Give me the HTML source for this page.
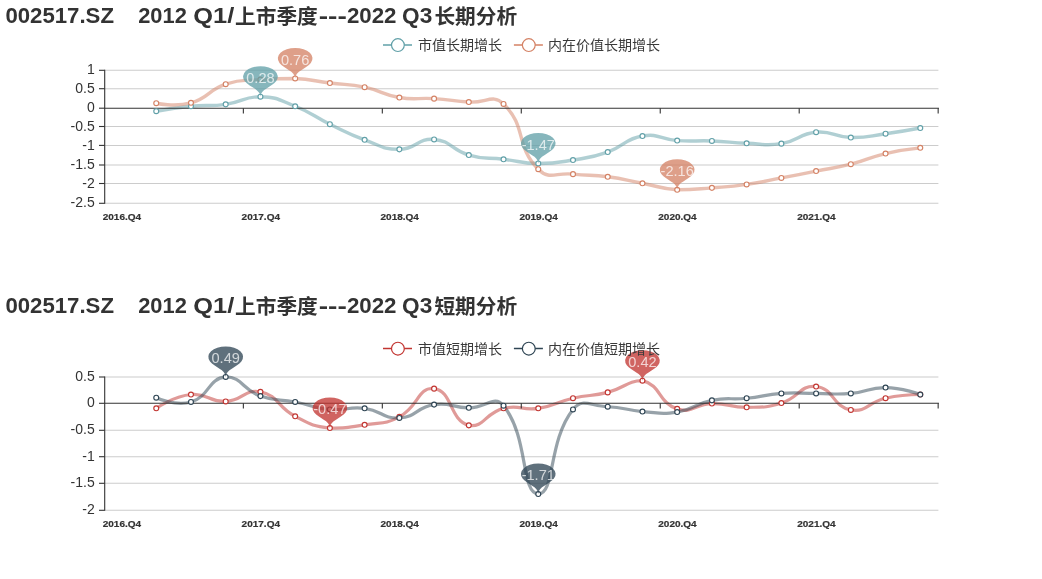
<!DOCTYPE html>
<html><head><meta charset="utf-8"><title>chart</title>
<style>
html,body{margin:0;padding:0;background:#fff;width:1042px;height:579px;overflow:hidden}
svg{display:block;will-change:transform;font-family:"Liberation Sans", "Noto Sans CJK SC", sans-serif}
</style></head><body>
<svg width="1042" height="579" viewBox="0 0 1042 579">
<rect width="1042" height="579" fill="#fff"/>
<line x1="104.70" y1="70.30" x2="938.40" y2="70.30" stroke="#ccc" stroke-width="1.05"/>
<line x1="104.70" y1="88.70" x2="938.40" y2="88.70" stroke="#ccc" stroke-width="1.05"/>
<line x1="104.70" y1="126.50" x2="938.40" y2="126.50" stroke="#ccc" stroke-width="1.05"/>
<line x1="104.70" y1="145.40" x2="938.40" y2="145.40" stroke="#ccc" stroke-width="1.05"/>
<line x1="104.70" y1="165.00" x2="938.40" y2="165.00" stroke="#ccc" stroke-width="1.05"/>
<line x1="104.70" y1="183.50" x2="938.40" y2="183.50" stroke="#ccc" stroke-width="1.05"/>
<line x1="104.70" y1="203.30" x2="938.40" y2="203.30" stroke="#ccc" stroke-width="1.05"/>
<line x1="104.70" y1="69.80" x2="104.70" y2="203.80" stroke="#333" stroke-width="1.1"/>
<line x1="99.00" y1="70.30" x2="104.70" y2="70.30" stroke="#333" stroke-width="1.1"/>
<text x="94.7" y="68.7" text-anchor="end" dominant-baseline="central" font-size="14" fill="#333">1</text>
<line x1="99.00" y1="88.70" x2="104.70" y2="88.70" stroke="#333" stroke-width="1.1"/>
<text x="94.7" y="87.7" text-anchor="end" dominant-baseline="central" font-size="14" fill="#333">0.5</text>
<line x1="99.00" y1="108.20" x2="104.70" y2="108.20" stroke="#333" stroke-width="1.1"/>
<text x="94.7" y="106.8" text-anchor="end" dominant-baseline="central" font-size="14" fill="#333">0</text>
<line x1="99.00" y1="126.50" x2="104.70" y2="126.50" stroke="#333" stroke-width="1.1"/>
<text x="94.7" y="125.9" text-anchor="end" dominant-baseline="central" font-size="14" fill="#333">-0.5</text>
<line x1="99.00" y1="145.40" x2="104.70" y2="145.40" stroke="#333" stroke-width="1.1"/>
<text x="94.7" y="144.9" text-anchor="end" dominant-baseline="central" font-size="14" fill="#333">-1</text>
<line x1="99.00" y1="165.00" x2="104.70" y2="165.00" stroke="#333" stroke-width="1.1"/>
<text x="94.7" y="164.0" text-anchor="end" dominant-baseline="central" font-size="14" fill="#333">-1.5</text>
<line x1="99.00" y1="183.50" x2="104.70" y2="183.50" stroke="#333" stroke-width="1.1"/>
<text x="94.7" y="183.1" text-anchor="end" dominant-baseline="central" font-size="14" fill="#333">-2</text>
<line x1="99.00" y1="203.30" x2="104.70" y2="203.30" stroke="#333" stroke-width="1.1"/>
<text x="94.7" y="202.1" text-anchor="end" dominant-baseline="central" font-size="14" fill="#333">-2.5</text>
<path d="M156.24 111.22 C156.24 111.22 173.53 107.99 190.97 106.27 C208.26 104.56 208.53 106.72 225.70 104.36 C243.26 101.95 243.18 96.73 260.43 96.73 C277.91 97.21 278.50 99.68 295.16 106.27 C313.23 113.41 312.30 115.69 329.89 124.19 C347.03 132.47 346.77 133.35 364.62 139.82 C381.50 145.94 382.01 149.45 399.35 149.35 C416.74 149.26 417.17 138.05 434.08 139.44 C451.90 140.91 450.70 149.91 468.81 155.07 C485.43 159.82 486.17 157.17 503.54 159.27 C520.90 161.36 520.88 163.27 538.26 163.46 C555.61 163.46 555.81 162.86 572.99 160.03 C590.54 157.14 590.97 157.82 607.72 152.02 C625.70 145.81 624.33 138.99 642.45 136.01 C659.05 133.27 659.74 139.34 677.18 140.58 C694.47 141.82 694.56 140.30 711.91 140.96 C729.29 141.63 729.26 142.58 746.64 143.25 C763.99 143.92 764.45 146.33 781.37 143.63 C799.18 140.80 798.39 133.75 816.10 132.19 C833.12 130.70 833.41 137.15 850.83 137.53 C868.14 137.91 868.26 136.09 885.56 133.72 C902.98 131.33 920.29 128.00 920.29 128.00" fill="none" stroke="#61a0a8" stroke-opacity="0.5" stroke-width="3.40" stroke-linejoin="round"/>
<path d="M156.24 103.22 C156.24 103.22 174.71 107.30 190.97 102.83 C209.44 97.77 207.31 90.31 225.70 84.15 C242.04 78.68 243.00 81.01 260.43 79.58 C277.73 78.43 277.87 78.43 295.16 78.43 C312.60 79.29 312.51 80.81 329.89 83.01 C347.24 85.20 347.56 83.64 364.62 87.20 C382.29 90.89 381.62 94.58 399.35 97.50 C416.35 100.30 416.75 97.50 434.08 98.64 C451.48 99.79 451.41 100.74 468.81 102.07 C486.14 103.40 492.42 93.24 503.54 103.98 C527.15 126.79 514.72 145.40 538.26 169.18 C549.45 180.48 555.57 172.22 572.99 174.14 C590.30 176.04 590.48 174.54 607.72 176.81 C625.21 179.11 625.09 180.05 642.45 183.29 C659.82 186.53 659.68 188.62 677.18 189.77 C694.41 189.77 694.57 189.20 711.91 187.86 C729.30 186.53 729.38 186.90 746.64 184.43 C764.11 181.94 764.02 181.28 781.37 177.95 C798.75 174.61 798.73 174.52 816.10 171.09 C833.46 167.66 833.69 168.55 850.83 164.22 C868.42 159.78 867.92 157.71 885.56 153.55 C902.65 149.51 920.29 147.83 920.29 147.83" fill="none" stroke="#d48265" stroke-opacity="0.5" stroke-width="3.40" stroke-linejoin="round"/>
<line x1="104.70" y1="108.20" x2="938.95" y2="108.20" stroke="#333" stroke-width="1.1"/>
<line x1="243.36" y1="108.20" x2="243.36" y2="113.40" stroke="#333" stroke-width="1.1"/>
<line x1="382.32" y1="108.20" x2="382.32" y2="113.40" stroke="#333" stroke-width="1.1"/>
<line x1="521.28" y1="108.20" x2="521.28" y2="113.40" stroke="#333" stroke-width="1.1"/>
<line x1="660.24" y1="108.20" x2="660.24" y2="113.40" stroke="#333" stroke-width="1.1"/>
<line x1="799.20" y1="108.20" x2="799.20" y2="113.40" stroke="#333" stroke-width="1.1"/>
<line x1="938.16" y1="108.20" x2="938.16" y2="113.40" stroke="#333" stroke-width="1.1"/>
<text x="121.9" y="220.2" text-anchor="middle" font-size="9.5" font-weight="bold" fill="#333" stroke="#333" stroke-width="0.2" textLength="38.4" lengthAdjust="spacingAndGlyphs">2016.Q4</text>
<text x="260.8" y="220.2" text-anchor="middle" font-size="9.5" font-weight="bold" fill="#333" stroke="#333" stroke-width="0.2" textLength="38.4" lengthAdjust="spacingAndGlyphs">2017.Q4</text>
<text x="399.7" y="220.2" text-anchor="middle" font-size="9.5" font-weight="bold" fill="#333" stroke="#333" stroke-width="0.2" textLength="38.4" lengthAdjust="spacingAndGlyphs">2018.Q4</text>
<text x="538.6" y="220.2" text-anchor="middle" font-size="9.5" font-weight="bold" fill="#333" stroke="#333" stroke-width="0.2" textLength="38.4" lengthAdjust="spacingAndGlyphs">2019.Q4</text>
<text x="677.5" y="220.2" text-anchor="middle" font-size="9.5" font-weight="bold" fill="#333" stroke="#333" stroke-width="0.2" textLength="38.4" lengthAdjust="spacingAndGlyphs">2020.Q4</text>
<text x="816.4" y="220.2" text-anchor="middle" font-size="9.5" font-weight="bold" fill="#333" stroke="#333" stroke-width="0.2" textLength="38.4" lengthAdjust="spacingAndGlyphs">2021.Q4</text>
<circle cx="156.24" cy="111.22" r="2.45" fill="#fff" stroke="#61a0a8" stroke-width="1.15"/>
<circle cx="190.97" cy="106.27" r="2.45" fill="#fff" stroke="#61a0a8" stroke-width="1.15"/>
<circle cx="225.70" cy="104.36" r="2.45" fill="#fff" stroke="#61a0a8" stroke-width="1.15"/>
<circle cx="260.43" cy="96.73" r="2.45" fill="#fff" stroke="#61a0a8" stroke-width="1.15"/>
<circle cx="295.16" cy="106.27" r="2.45" fill="#fff" stroke="#61a0a8" stroke-width="1.15"/>
<circle cx="329.89" cy="124.19" r="2.45" fill="#fff" stroke="#61a0a8" stroke-width="1.15"/>
<circle cx="364.62" cy="139.82" r="2.45" fill="#fff" stroke="#61a0a8" stroke-width="1.15"/>
<circle cx="399.35" cy="149.35" r="2.45" fill="#fff" stroke="#61a0a8" stroke-width="1.15"/>
<circle cx="434.08" cy="139.44" r="2.45" fill="#fff" stroke="#61a0a8" stroke-width="1.15"/>
<circle cx="468.81" cy="155.07" r="2.45" fill="#fff" stroke="#61a0a8" stroke-width="1.15"/>
<circle cx="503.54" cy="159.27" r="2.45" fill="#fff" stroke="#61a0a8" stroke-width="1.15"/>
<circle cx="538.26" cy="163.46" r="2.45" fill="#fff" stroke="#61a0a8" stroke-width="1.15"/>
<circle cx="572.99" cy="160.03" r="2.45" fill="#fff" stroke="#61a0a8" stroke-width="1.15"/>
<circle cx="607.72" cy="152.02" r="2.45" fill="#fff" stroke="#61a0a8" stroke-width="1.15"/>
<circle cx="642.45" cy="136.01" r="2.45" fill="#fff" stroke="#61a0a8" stroke-width="1.15"/>
<circle cx="677.18" cy="140.58" r="2.45" fill="#fff" stroke="#61a0a8" stroke-width="1.15"/>
<circle cx="711.91" cy="140.96" r="2.45" fill="#fff" stroke="#61a0a8" stroke-width="1.15"/>
<circle cx="746.64" cy="143.25" r="2.45" fill="#fff" stroke="#61a0a8" stroke-width="1.15"/>
<circle cx="781.37" cy="143.63" r="2.45" fill="#fff" stroke="#61a0a8" stroke-width="1.15"/>
<circle cx="816.10" cy="132.19" r="2.45" fill="#fff" stroke="#61a0a8" stroke-width="1.15"/>
<circle cx="850.83" cy="137.53" r="2.45" fill="#fff" stroke="#61a0a8" stroke-width="1.15"/>
<circle cx="885.56" cy="133.72" r="2.45" fill="#fff" stroke="#61a0a8" stroke-width="1.15"/>
<circle cx="920.29" cy="128.00" r="2.45" fill="#fff" stroke="#61a0a8" stroke-width="1.15"/>
<circle cx="156.24" cy="103.22" r="2.45" fill="#fff" stroke="#d48265" stroke-width="1.15"/>
<circle cx="190.97" cy="102.83" r="2.45" fill="#fff" stroke="#d48265" stroke-width="1.15"/>
<circle cx="225.70" cy="84.15" r="2.45" fill="#fff" stroke="#d48265" stroke-width="1.15"/>
<circle cx="260.43" cy="79.58" r="2.45" fill="#fff" stroke="#d48265" stroke-width="1.15"/>
<circle cx="295.16" cy="78.43" r="2.45" fill="#fff" stroke="#d48265" stroke-width="1.15"/>
<circle cx="329.89" cy="83.01" r="2.45" fill="#fff" stroke="#d48265" stroke-width="1.15"/>
<circle cx="364.62" cy="87.20" r="2.45" fill="#fff" stroke="#d48265" stroke-width="1.15"/>
<circle cx="399.35" cy="97.50" r="2.45" fill="#fff" stroke="#d48265" stroke-width="1.15"/>
<circle cx="434.08" cy="98.64" r="2.45" fill="#fff" stroke="#d48265" stroke-width="1.15"/>
<circle cx="468.81" cy="102.07" r="2.45" fill="#fff" stroke="#d48265" stroke-width="1.15"/>
<circle cx="503.54" cy="103.98" r="2.45" fill="#fff" stroke="#d48265" stroke-width="1.15"/>
<circle cx="538.26" cy="169.18" r="2.45" fill="#fff" stroke="#d48265" stroke-width="1.15"/>
<circle cx="572.99" cy="174.14" r="2.45" fill="#fff" stroke="#d48265" stroke-width="1.15"/>
<circle cx="607.72" cy="176.81" r="2.45" fill="#fff" stroke="#d48265" stroke-width="1.15"/>
<circle cx="642.45" cy="183.29" r="2.45" fill="#fff" stroke="#d48265" stroke-width="1.15"/>
<circle cx="677.18" cy="189.77" r="2.45" fill="#fff" stroke="#d48265" stroke-width="1.15"/>
<circle cx="711.91" cy="187.86" r="2.45" fill="#fff" stroke="#d48265" stroke-width="1.15"/>
<circle cx="746.64" cy="184.43" r="2.45" fill="#fff" stroke="#d48265" stroke-width="1.15"/>
<circle cx="781.37" cy="177.95" r="2.45" fill="#fff" stroke="#d48265" stroke-width="1.15"/>
<circle cx="816.10" cy="171.09" r="2.45" fill="#fff" stroke="#d48265" stroke-width="1.15"/>
<circle cx="850.83" cy="164.22" r="2.45" fill="#fff" stroke="#d48265" stroke-width="1.15"/>
<circle cx="885.56" cy="153.55" r="2.45" fill="#fff" stroke="#d48265" stroke-width="1.15"/>
<circle cx="920.29" cy="147.83" r="2.45" fill="#fff" stroke="#d48265" stroke-width="1.15"/>
<path d="M-0.54210 -0.88571 A0.60000 0.60000 0 1 1 0.54210 -0.88571 C0.38782 -0.56045 0.00000 -0.42000 0 0 C0.00000 -0.42000 -0.38782 -0.56045 -0.54210 -0.88571 Z" transform="translate(260.43 96.73) scale(28.90 17.50)" fill="#61a0a8" fill-opacity="0.77"/>
<text x="260.43" y="77.93" text-anchor="middle" dominant-baseline="central" font-size="14.6" fill="#fff" fill-opacity="0.72">0.28</text>
<path d="M-0.54210 -0.88571 A0.60000 0.60000 0 1 1 0.54210 -0.88571 C0.38782 -0.56045 0.00000 -0.42000 0 0 C0.00000 -0.42000 -0.38782 -0.56045 -0.54210 -0.88571 Z" transform="translate(538.26 163.46) scale(28.90 17.50)" fill="#61a0a8" fill-opacity="0.77"/>
<text x="538.26" y="144.66" text-anchor="middle" dominant-baseline="central" font-size="14.6" fill="#fff" fill-opacity="0.72">-1.47</text>
<path d="M-0.54210 -0.88571 A0.60000 0.60000 0 1 1 0.54210 -0.88571 C0.38782 -0.56045 0.00000 -0.42000 0 0 C0.00000 -0.42000 -0.38782 -0.56045 -0.54210 -0.88571 Z" transform="translate(295.16 78.43) scale(28.90 17.50)" fill="#d48265" fill-opacity="0.77"/>
<text x="295.16" y="59.63" text-anchor="middle" dominant-baseline="central" font-size="14.6" fill="#fff" fill-opacity="0.72">0.76</text>
<path d="M-0.54210 -0.88571 A0.60000 0.60000 0 1 1 0.54210 -0.88571 C0.38782 -0.56045 0.00000 -0.42000 0 0 C0.00000 -0.42000 -0.38782 -0.56045 -0.54210 -0.88571 Z" transform="translate(677.18 189.77) scale(28.90 17.50)" fill="#d48265" fill-opacity="0.77"/>
<text x="677.18" y="170.97" text-anchor="middle" dominant-baseline="central" font-size="14.6" fill="#fff" fill-opacity="0.72">-2.16</text>
<line x1="383.0" y1="45.0" x2="412.0" y2="45.0" stroke="#61a0a8" stroke-width="1.5"/>
<circle cx="397.90" cy="45.10" r="6.4" fill="#fff" stroke="#61a0a8" stroke-width="1.2"/>
<text x="418.0" y="45.4" dominant-baseline="central" font-size="14" fill="#3a3a3a">市值长期增长</text>
<line x1="513.9" y1="45.0" x2="542.9" y2="45.0" stroke="#d48265" stroke-width="1.5"/>
<circle cx="528.80" cy="45.10" r="6.4" fill="#fff" stroke="#d48265" stroke-width="1.2"/>
<text x="548.0" y="45.4" dominant-baseline="central" font-size="14" fill="#3a3a3a">内在价值长期增长</text>
<text x="5.4" y="23.4" font-size="22.6" font-weight="bold" fill="#333" textLength="108.6" lengthAdjust="spacingAndGlyphs">002517.SZ</text>
<text x="138.2" y="23.4" font-size="22.6" font-weight="bold" fill="#333" textLength="48.6" lengthAdjust="spacingAndGlyphs">2012</text>
<text x="193.3" y="23.4" font-size="22.6" font-weight="bold" fill="#333" textLength="41.0" lengthAdjust="spacingAndGlyphs">Q1/</text>
<text x="235.0" y="24.0" font-size="20.7" font-weight="bold" fill="#333">上市季度</text>
<text x="318.7" y="23.4" font-size="22.6" font-weight="bold" fill="#333" textLength="28.1" lengthAdjust="spacingAndGlyphs">---</text>
<text x="346.9" y="23.4" font-size="22.6" font-weight="bold" fill="#333" textLength="49.6" lengthAdjust="spacingAndGlyphs">2022</text>
<text x="402.1" y="23.4" font-size="22.6" font-weight="bold" fill="#333" textLength="30.2" lengthAdjust="spacingAndGlyphs">Q3</text>
<text x="434.4" y="24.2" font-size="20.7" font-weight="bold" fill="#333">长期分析</text>
<line x1="104.70" y1="377.00" x2="938.40" y2="377.00" stroke="#ccc" stroke-width="1.05"/>
<line x1="104.70" y1="430.30" x2="938.40" y2="430.30" stroke="#ccc" stroke-width="1.05"/>
<line x1="104.70" y1="456.70" x2="938.40" y2="456.70" stroke="#ccc" stroke-width="1.05"/>
<line x1="104.70" y1="483.30" x2="938.40" y2="483.30" stroke="#ccc" stroke-width="1.05"/>
<line x1="104.70" y1="510.30" x2="938.40" y2="510.30" stroke="#ccc" stroke-width="1.05"/>
<line x1="104.70" y1="376.50" x2="104.70" y2="510.80" stroke="#333" stroke-width="1.1"/>
<line x1="99.00" y1="377.00" x2="104.70" y2="377.00" stroke="#333" stroke-width="1.1"/>
<text x="94.7" y="375.8" text-anchor="end" dominant-baseline="central" font-size="14" fill="#333">0.5</text>
<line x1="99.00" y1="403.30" x2="104.70" y2="403.30" stroke="#333" stroke-width="1.1"/>
<text x="94.7" y="402.4" text-anchor="end" dominant-baseline="central" font-size="14" fill="#333">0</text>
<line x1="99.00" y1="430.30" x2="104.70" y2="430.30" stroke="#333" stroke-width="1.1"/>
<text x="94.7" y="429.0" text-anchor="end" dominant-baseline="central" font-size="14" fill="#333">-0.5</text>
<line x1="99.00" y1="456.70" x2="104.70" y2="456.70" stroke="#333" stroke-width="1.1"/>
<text x="94.7" y="455.6" text-anchor="end" dominant-baseline="central" font-size="14" fill="#333">-1</text>
<line x1="99.00" y1="483.30" x2="104.70" y2="483.30" stroke="#333" stroke-width="1.1"/>
<text x="94.7" y="482.2" text-anchor="end" dominant-baseline="central" font-size="14" fill="#333">-1.5</text>
<line x1="99.00" y1="510.30" x2="104.70" y2="510.30" stroke="#333" stroke-width="1.1"/>
<text x="94.7" y="508.8" text-anchor="end" dominant-baseline="central" font-size="14" fill="#333">-2</text>
<path d="M156.24 408.34 C156.24 408.34 173.14 396.28 190.97 394.51 C207.87 392.82 208.49 402.08 225.70 401.42 C243.22 400.75 244.50 388.43 260.43 391.85 C279.23 395.88 276.51 406.61 295.16 416.32 C311.24 424.70 312.09 425.85 329.89 428.03 C346.82 428.03 347.44 427.60 364.62 424.84 C382.17 422.01 383.95 424.88 399.35 416.85 C418.68 406.78 417.77 386.65 434.08 388.65 C452.50 390.91 449.13 419.79 468.81 425.37 C483.86 428.03 485.24 412.83 503.54 408.34 C519.97 404.31 521.25 410.82 538.26 408.34 C555.98 405.76 555.40 402.28 572.99 398.23 C590.13 394.29 590.70 396.68 607.72 392.38 C625.43 387.90 626.81 380.67 642.45 380.67 C661.54 385.21 657.73 402.47 677.18 408.87 C692.46 413.91 694.49 403.95 711.91 403.55 C729.22 403.15 729.29 407.41 746.64 407.28 C764.02 407.14 764.82 407.96 781.37 403.02 C799.55 397.59 799.48 384.87 816.10 386.52 C834.21 388.33 832.31 406.82 850.83 409.94 C867.03 412.67 867.77 402.18 885.56 398.23 C902.50 394.47 920.29 394.51 920.29 394.51" fill="none" stroke="#c23531" stroke-opacity="0.5" stroke-width="3.20" stroke-linejoin="round"/>
<path d="M156.24 397.70 C156.24 397.70 175.35 406.62 190.97 401.96 C210.08 396.25 207.68 378.47 225.70 376.95 C242.41 376.95 242.04 389.48 260.43 396.10 C276.77 401.98 277.87 398.64 295.16 401.96 C312.60 405.30 312.33 407.79 329.89 409.41 C347.06 410.98 347.57 406.25 364.62 408.34 C382.30 410.51 382.26 418.84 399.35 417.92 C416.99 416.97 416.15 407.22 434.08 404.62 C450.88 402.17 451.42 407.54 468.81 407.81 C486.15 408.07 494.22 394.12 503.54 405.68 C528.95 437.22 520.58 493.06 538.26 494.01 C555.31 494.01 547.84 441.00 572.99 409.41 C582.57 397.37 590.41 406.21 607.72 406.74 C625.14 407.28 625.01 410.20 642.45 411.53 C659.74 412.86 660.28 414.78 677.18 412.07 C695.01 409.20 694.10 403.91 711.91 400.36 C728.82 396.99 729.34 399.95 746.64 398.23 C764.07 396.50 763.92 394.65 781.37 393.44 C798.65 392.25 798.73 393.44 816.10 393.44 C833.46 393.44 833.58 394.90 850.83 393.44 C868.31 391.97 868.24 387.32 885.56 387.59 C902.97 387.86 920.29 394.51 920.29 394.51" fill="none" stroke="#2f4554" stroke-opacity="0.5" stroke-width="3.20" stroke-linejoin="round"/>
<line x1="104.70" y1="403.30" x2="938.95" y2="403.30" stroke="#333" stroke-width="1.1"/>
<line x1="243.36" y1="403.30" x2="243.36" y2="408.50" stroke="#333" stroke-width="1.1"/>
<line x1="382.32" y1="403.30" x2="382.32" y2="408.50" stroke="#333" stroke-width="1.1"/>
<line x1="521.28" y1="403.30" x2="521.28" y2="408.50" stroke="#333" stroke-width="1.1"/>
<line x1="660.24" y1="403.30" x2="660.24" y2="408.50" stroke="#333" stroke-width="1.1"/>
<line x1="799.20" y1="403.30" x2="799.20" y2="408.50" stroke="#333" stroke-width="1.1"/>
<line x1="938.16" y1="403.30" x2="938.16" y2="408.50" stroke="#333" stroke-width="1.1"/>
<text x="121.9" y="527.1" text-anchor="middle" font-size="9.5" font-weight="bold" fill="#333" stroke="#333" stroke-width="0.2" textLength="38.4" lengthAdjust="spacingAndGlyphs">2016.Q4</text>
<text x="260.8" y="527.1" text-anchor="middle" font-size="9.5" font-weight="bold" fill="#333" stroke="#333" stroke-width="0.2" textLength="38.4" lengthAdjust="spacingAndGlyphs">2017.Q4</text>
<text x="399.7" y="527.1" text-anchor="middle" font-size="9.5" font-weight="bold" fill="#333" stroke="#333" stroke-width="0.2" textLength="38.4" lengthAdjust="spacingAndGlyphs">2018.Q4</text>
<text x="538.6" y="527.1" text-anchor="middle" font-size="9.5" font-weight="bold" fill="#333" stroke="#333" stroke-width="0.2" textLength="38.4" lengthAdjust="spacingAndGlyphs">2019.Q4</text>
<text x="677.5" y="527.1" text-anchor="middle" font-size="9.5" font-weight="bold" fill="#333" stroke="#333" stroke-width="0.2" textLength="38.4" lengthAdjust="spacingAndGlyphs">2020.Q4</text>
<text x="816.4" y="527.1" text-anchor="middle" font-size="9.5" font-weight="bold" fill="#333" stroke="#333" stroke-width="0.2" textLength="38.4" lengthAdjust="spacingAndGlyphs">2021.Q4</text>
<circle cx="156.24" cy="408.34" r="2.45" fill="#fff" stroke="#c23531" stroke-width="1.15"/>
<circle cx="190.97" cy="394.51" r="2.45" fill="#fff" stroke="#c23531" stroke-width="1.15"/>
<circle cx="225.70" cy="401.42" r="2.45" fill="#fff" stroke="#c23531" stroke-width="1.15"/>
<circle cx="260.43" cy="391.85" r="2.45" fill="#fff" stroke="#c23531" stroke-width="1.15"/>
<circle cx="295.16" cy="416.32" r="2.45" fill="#fff" stroke="#c23531" stroke-width="1.15"/>
<circle cx="329.89" cy="428.03" r="2.45" fill="#fff" stroke="#c23531" stroke-width="1.15"/>
<circle cx="364.62" cy="424.84" r="2.45" fill="#fff" stroke="#c23531" stroke-width="1.15"/>
<circle cx="399.35" cy="416.85" r="2.45" fill="#fff" stroke="#c23531" stroke-width="1.15"/>
<circle cx="434.08" cy="388.65" r="2.45" fill="#fff" stroke="#c23531" stroke-width="1.15"/>
<circle cx="468.81" cy="425.37" r="2.45" fill="#fff" stroke="#c23531" stroke-width="1.15"/>
<circle cx="503.54" cy="408.34" r="2.45" fill="#fff" stroke="#c23531" stroke-width="1.15"/>
<circle cx="538.26" cy="408.34" r="2.45" fill="#fff" stroke="#c23531" stroke-width="1.15"/>
<circle cx="572.99" cy="398.23" r="2.45" fill="#fff" stroke="#c23531" stroke-width="1.15"/>
<circle cx="607.72" cy="392.38" r="2.45" fill="#fff" stroke="#c23531" stroke-width="1.15"/>
<circle cx="642.45" cy="380.67" r="2.45" fill="#fff" stroke="#c23531" stroke-width="1.15"/>
<circle cx="677.18" cy="408.87" r="2.45" fill="#fff" stroke="#c23531" stroke-width="1.15"/>
<circle cx="711.91" cy="403.55" r="2.45" fill="#fff" stroke="#c23531" stroke-width="1.15"/>
<circle cx="746.64" cy="407.28" r="2.45" fill="#fff" stroke="#c23531" stroke-width="1.15"/>
<circle cx="781.37" cy="403.02" r="2.45" fill="#fff" stroke="#c23531" stroke-width="1.15"/>
<circle cx="816.10" cy="386.52" r="2.45" fill="#fff" stroke="#c23531" stroke-width="1.15"/>
<circle cx="850.83" cy="409.94" r="2.45" fill="#fff" stroke="#c23531" stroke-width="1.15"/>
<circle cx="885.56" cy="398.23" r="2.45" fill="#fff" stroke="#c23531" stroke-width="1.15"/>
<circle cx="920.29" cy="394.51" r="2.45" fill="#fff" stroke="#c23531" stroke-width="1.15"/>
<circle cx="156.24" cy="397.70" r="2.45" fill="#fff" stroke="#2f4554" stroke-width="1.15"/>
<circle cx="190.97" cy="401.96" r="2.45" fill="#fff" stroke="#2f4554" stroke-width="1.15"/>
<circle cx="225.70" cy="376.95" r="2.45" fill="#fff" stroke="#2f4554" stroke-width="1.15"/>
<circle cx="260.43" cy="396.10" r="2.45" fill="#fff" stroke="#2f4554" stroke-width="1.15"/>
<circle cx="295.16" cy="401.96" r="2.45" fill="#fff" stroke="#2f4554" stroke-width="1.15"/>
<circle cx="329.89" cy="409.41" r="2.45" fill="#fff" stroke="#2f4554" stroke-width="1.15"/>
<circle cx="364.62" cy="408.34" r="2.45" fill="#fff" stroke="#2f4554" stroke-width="1.15"/>
<circle cx="399.35" cy="417.92" r="2.45" fill="#fff" stroke="#2f4554" stroke-width="1.15"/>
<circle cx="434.08" cy="404.62" r="2.45" fill="#fff" stroke="#2f4554" stroke-width="1.15"/>
<circle cx="468.81" cy="407.81" r="2.45" fill="#fff" stroke="#2f4554" stroke-width="1.15"/>
<circle cx="503.54" cy="405.68" r="2.45" fill="#fff" stroke="#2f4554" stroke-width="1.15"/>
<circle cx="538.26" cy="494.01" r="2.45" fill="#fff" stroke="#2f4554" stroke-width="1.15"/>
<circle cx="572.99" cy="409.41" r="2.45" fill="#fff" stroke="#2f4554" stroke-width="1.15"/>
<circle cx="607.72" cy="406.74" r="2.45" fill="#fff" stroke="#2f4554" stroke-width="1.15"/>
<circle cx="642.45" cy="411.53" r="2.45" fill="#fff" stroke="#2f4554" stroke-width="1.15"/>
<circle cx="677.18" cy="412.07" r="2.45" fill="#fff" stroke="#2f4554" stroke-width="1.15"/>
<circle cx="711.91" cy="400.36" r="2.45" fill="#fff" stroke="#2f4554" stroke-width="1.15"/>
<circle cx="746.64" cy="398.23" r="2.45" fill="#fff" stroke="#2f4554" stroke-width="1.15"/>
<circle cx="781.37" cy="393.44" r="2.45" fill="#fff" stroke="#2f4554" stroke-width="1.15"/>
<circle cx="816.10" cy="393.44" r="2.45" fill="#fff" stroke="#2f4554" stroke-width="1.15"/>
<circle cx="850.83" cy="393.44" r="2.45" fill="#fff" stroke="#2f4554" stroke-width="1.15"/>
<circle cx="885.56" cy="387.59" r="2.45" fill="#fff" stroke="#2f4554" stroke-width="1.15"/>
<circle cx="920.29" cy="394.51" r="2.45" fill="#fff" stroke="#2f4554" stroke-width="1.15"/>
<path d="M-0.54210 -0.88571 A0.60000 0.60000 0 1 1 0.54210 -0.88571 C0.38782 -0.56045 0.00000 -0.42000 0 0 C0.00000 -0.42000 -0.38782 -0.56045 -0.54210 -0.88571 Z" transform="translate(329.89 428.03) scale(28.90 17.50)" fill="#c23531" fill-opacity="0.77"/>
<text x="329.89" y="409.23" text-anchor="middle" dominant-baseline="central" font-size="14.6" fill="#fff" fill-opacity="0.72">-0.47</text>
<path d="M-0.54210 -0.88571 A0.60000 0.60000 0 1 1 0.54210 -0.88571 C0.38782 -0.56045 0.00000 -0.42000 0 0 C0.00000 -0.42000 -0.38782 -0.56045 -0.54210 -0.88571 Z" transform="translate(642.45 380.67) scale(28.90 17.50)" fill="#c23531" fill-opacity="0.77"/>
<text x="642.45" y="361.87" text-anchor="middle" dominant-baseline="central" font-size="14.6" fill="#fff" fill-opacity="0.72">0.42</text>
<path d="M-0.54210 -0.88571 A0.60000 0.60000 0 1 1 0.54210 -0.88571 C0.38782 -0.56045 0.00000 -0.42000 0 0 C0.00000 -0.42000 -0.38782 -0.56045 -0.54210 -0.88571 Z" transform="translate(225.70 376.95) scale(28.90 17.50)" fill="#2f4554" fill-opacity="0.77"/>
<text x="225.70" y="358.15" text-anchor="middle" dominant-baseline="central" font-size="14.6" fill="#fff" fill-opacity="0.72">0.49</text>
<path d="M-0.54210 -0.88571 A0.60000 0.60000 0 1 1 0.54210 -0.88571 C0.38782 -0.56045 0.00000 -0.42000 0 0 C0.00000 -0.42000 -0.38782 -0.56045 -0.54210 -0.88571 Z" transform="translate(538.26 494.01) scale(28.90 17.50)" fill="#2f4554" fill-opacity="0.77"/>
<text x="538.26" y="475.21" text-anchor="middle" dominant-baseline="central" font-size="14.6" fill="#fff" fill-opacity="0.72">-1.71</text>
<line x1="383.0" y1="348.5" x2="412.0" y2="348.5" stroke="#c23531" stroke-width="1.5"/>
<circle cx="397.90" cy="348.65" r="6.4" fill="#fff" stroke="#c23531" stroke-width="1.2"/>
<text x="418.0" y="348.9" dominant-baseline="central" font-size="14" fill="#3a3a3a">市值短期增长</text>
<line x1="513.9" y1="348.5" x2="542.9" y2="348.5" stroke="#2f4554" stroke-width="1.5"/>
<circle cx="528.80" cy="348.65" r="6.4" fill="#fff" stroke="#2f4554" stroke-width="1.2"/>
<text x="548.0" y="348.9" dominant-baseline="central" font-size="14" fill="#3a3a3a">内在价值短期增长</text>
<text x="5.4" y="313.4" font-size="22.6" font-weight="bold" fill="#333" textLength="108.6" lengthAdjust="spacingAndGlyphs">002517.SZ</text>
<text x="138.2" y="313.4" font-size="22.6" font-weight="bold" fill="#333" textLength="48.6" lengthAdjust="spacingAndGlyphs">2012</text>
<text x="193.3" y="313.4" font-size="22.6" font-weight="bold" fill="#333" textLength="41.0" lengthAdjust="spacingAndGlyphs">Q1/</text>
<text x="235.0" y="314.0" font-size="20.7" font-weight="bold" fill="#333">上市季度</text>
<text x="318.7" y="313.4" font-size="22.6" font-weight="bold" fill="#333" textLength="28.1" lengthAdjust="spacingAndGlyphs">---</text>
<text x="346.9" y="313.4" font-size="22.6" font-weight="bold" fill="#333" textLength="49.6" lengthAdjust="spacingAndGlyphs">2022</text>
<text x="402.1" y="313.4" font-size="22.6" font-weight="bold" fill="#333" textLength="30.2" lengthAdjust="spacingAndGlyphs">Q3</text>
<text x="434.4" y="314.2" font-size="20.7" font-weight="bold" fill="#333">短期分析</text>
</svg>
</body></html>
